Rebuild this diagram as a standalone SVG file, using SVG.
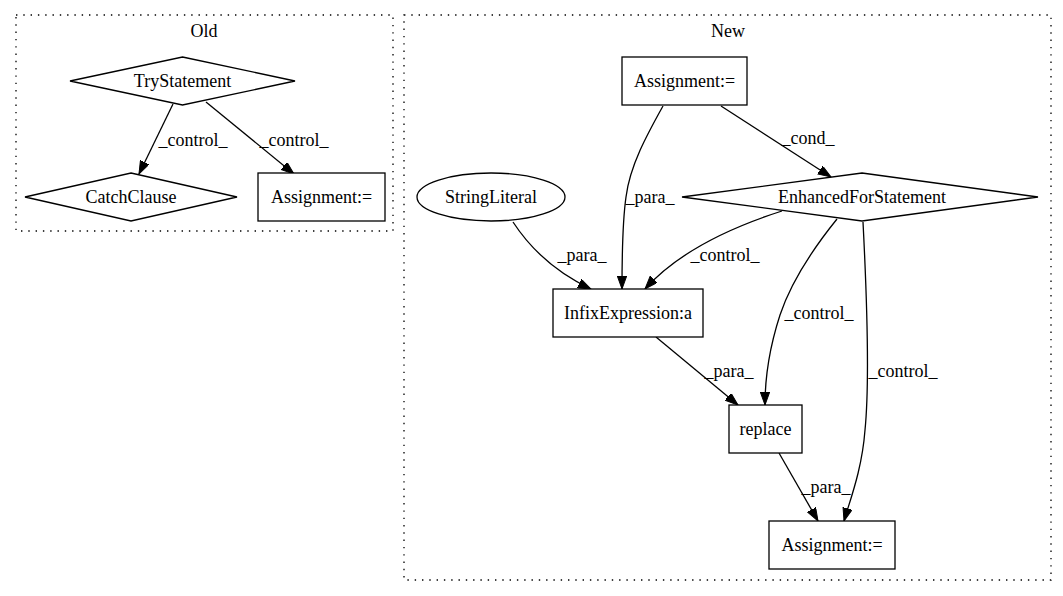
<svg xmlns="http://www.w3.org/2000/svg" width="1063" height="596" viewBox="0 0 1063 596">
<style>
.cl{fill:none;stroke:#000;stroke-width:1.3;stroke-dasharray:1.4,5.9}
.nd{fill:#fff;stroke:#000;stroke-width:1.3}
.t{font-family:"Liberation Serif","Times New Roman",serif;font-size:18px;fill:#000;text-anchor:middle}
.e{fill:none;stroke:#000;stroke-width:1.3;marker-end:url(#ah)}
</style>
<defs>
<marker id="ah" markerUnits="userSpaceOnUse" markerWidth="14" markerHeight="10" refX="13" refY="4.7" orient="auto">
<path d="M0,0 L13,4.7 L0,9.4 z" fill="#000" stroke="#000" stroke-width="1"/>
</marker>
</defs>
<rect width="1063" height="596" fill="#fff"/>
<g id="cluster_old">
<rect class="cl" x="16" y="15" width="377" height="216"/>
<text class="t" x="204" y="37">Old</text>
</g>
<g id="cluster_new">
<rect class="cl" x="404" y="15" width="647" height="565"/>
<text class="t" x="728" y="37">New</text>
</g>
<g id="connectors">
<path class="e" d="M173,104 L139,174"/>
<text class="t" x="193" y="146">_control_</text>
<path class="e" d="M206,102 L294,174"/>
<text class="t" x="294" y="146">_control_</text>
<path class="e" d="M663,106 C648,133 630,165 626,197 C622,225 622,258 622,289"/>
<text class="t" x="650" y="203">_para_</text>
<path class="e" d="M721,106 L831,177"/>
<text class="t" x="808" y="144">_cond_</text>
<path class="e" d="M513,222 C530,248 555,272 591,289"/>
<text class="t" x="582" y="261">_para_</text>
<path class="e" d="M782,211 C735,226 680,250 645,289"/>
<text class="t" x="725" y="261">_control_</text>
<path class="e" d="M837,219 C812,250 790,285 780,315 C768,352 765,385 765,405"/>
<text class="t" x="819" y="319">_control_</text>
<path class="e" d="M863,222 C866,280 870,380 865,430 C862,470 850,500 844,521"/>
<text class="t" x="903" y="377">_control_</text>
<path class="e" d="M656,337 L738,405"/>
<text class="t" x="729" y="377">_para_</text>
<path class="e" d="M779,453 L818,521"/>
<text class="t" x="826" y="493">_para_</text>
</g>
<g id="old_try">
<polygon class="nd" points="182.5,57 295,81 182.5,105 70,81"/>
<text class="t" x="182.5" y="87">TryStatement</text>
</g>
<g id="old_catch">
<polygon class="nd" points="131,173 237,197 131,221 25,197"/>
<text class="t" x="131" y="203">CatchClause</text>
</g>
<g id="old_assign">
<rect class="nd" x="258" y="173" width="127" height="48"/>
<text class="t" x="321.5" y="203">Assignment:=</text>
</g>
<g id="new_assign_top">
<rect class="nd" x="622" y="57" width="125" height="48"/>
<text class="t" x="684.5" y="87">Assignment:=</text>
</g>
<g id="new_stringliteral">
<ellipse class="nd" cx="491" cy="197" rx="74" ry="24"/>
<text class="t" x="491" y="203">StringLiteral</text>
</g>
<g id="new_enhancedfor">
<polygon class="nd" points="862,173 1038,197 862,221 682,197"/>
<text class="t" x="862" y="203">EnhancedForStatement</text>
</g>
<g id="new_infix">
<rect class="nd" x="553" y="289" width="150" height="48"/>
<text class="t" x="628" y="319">InfixExpression:a</text>
</g>
<g id="new_replace">
<rect class="nd" x="729" y="405" width="73" height="48"/>
<text class="t" x="765.5" y="435">replace</text>
</g>
<g id="new_assign_bottom">
<rect class="nd" x="769" y="521" width="126" height="48"/>
<text class="t" x="832" y="551">Assignment:=</text>
</g>
</svg>
